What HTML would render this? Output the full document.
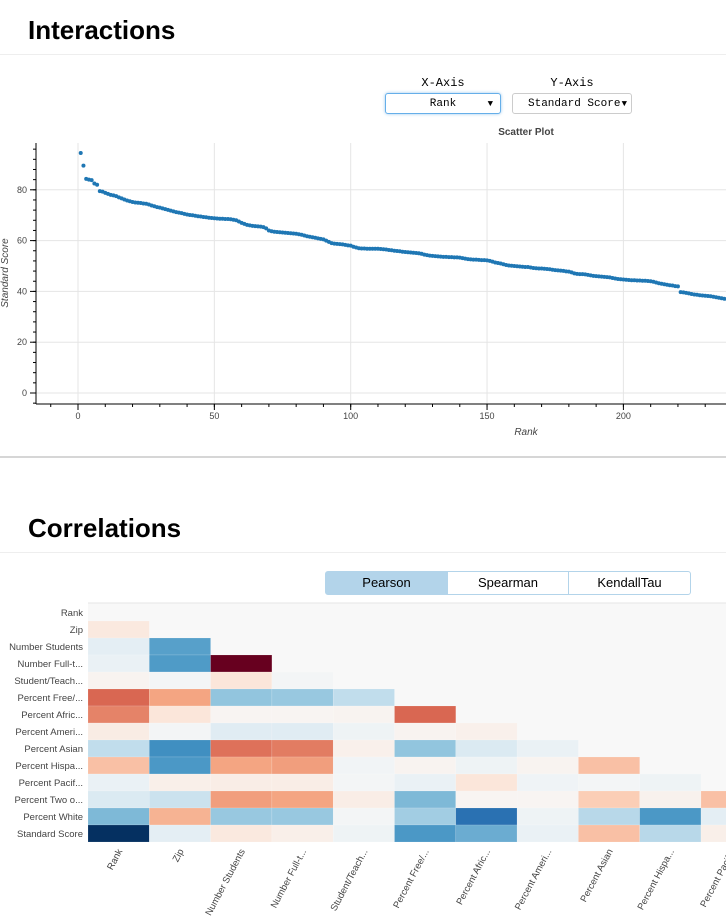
<!DOCTYPE html>
<html><head><meta charset="utf-8">
<style>
body{margin:0;width:726px;height:921px;overflow:hidden;background:#fff;font-family:"Liberation Sans",sans-serif;position:relative}
.h{position:absolute;left:28px;font-weight:bold;font-size:26px;color:#000}
.rule{position:absolute;left:0;width:726px;height:1px;background:#eee}
.lbl{position:absolute;font-family:"Liberation Mono",monospace;font-size:12px;color:#000;text-align:center}
.sel{position:absolute;height:21px;border:1px solid #ccc;border-radius:3px;font-family:"Liberation Mono",monospace;font-size:11px;line-height:21px;text-align:center;background:#fff;box-sizing:border-box}
.btn{position:absolute;top:571px;height:24px;border:1px solid #b3d4ea;font-size:13px;line-height:22px;text-align:center;box-sizing:border-box;background:#fff}
svg{position:absolute;left:0;top:0}
</style></head><body>
<div class="h" style="top:15px">Interactions</div>
<div class="rule" style="top:54px"></div>
<div class="lbl" style="left:385px;top:76px;width:116px">X-Axis</div>
<div class="lbl" style="left:512px;top:76px;width:120px">Y-Axis</div>
<div class="sel" style="left:385px;top:93px;width:116px;border-color:#66afe9;box-shadow:0 0 3px #9cc8ee">Rank<span style="position:absolute;right:7px;font-size:9px">▼</span></div>
<div class="sel" style="left:512px;top:93px;width:120px;text-align:left;padding-left:15px">Standard Score<span style="position:absolute;right:4px;font-size:9px">▼</span></div>
<div class="rule" style="top:456px;height:2px;background:#d6d6d6"></div>
<div class="h" style="top:513px">Correlations</div>
<div class="rule" style="top:552px"></div>
<div class="btn" style="left:325px;width:123px;background:#b3d4ea;border-radius:3px 0 0 3px">Pearson</div>
<div class="btn" style="left:447px;width:122px">Spearman</div>
<div class="btn" style="left:568px;width:123px;border-radius:0 3px 3px 0">KendallTau</div>
<svg id="sc" width="726" height="460"></svg>
<svg id="hm" width="726" height="921" style="pointer-events:none"></svg>
<script>
const scores=[94.5,89.5,84.3,84.0,83.8,82.5,82.0,79.5,79.3,78.8,
78.4,78.0,77.8,77.5,77.0,76.6,76.2,75.8,75.5,75.2,
75.0,74.9,74.8,74.6,74.5,74.2,73.8,73.5,73.2,73.0,
72.7,72.4,72.1,71.8,71.5,71.2,71.0,70.8,70.5,70.3,
70.1,70.0,69.8,69.6,69.5,69.3,69.2,69.0,68.9,68.8,
68.7,68.6,68.6,68.5,68.5,68.4,68.2,68.0,67.5,67.0,
66.6,66.2,66.0,65.8,65.7,65.6,65.5,65.3,64.8,64.0,
63.7,63.5,63.4,63.3,63.2,63.1,63.0,62.9,62.8,62.7,
62.5,62.3,62.0,61.7,61.5,61.3,61.1,60.9,60.7,60.5,
60.0,59.5,59.0,58.8,58.7,58.6,58.5,58.3,58.1,58.0,
57.6,57.3,57.0,56.9,56.9,56.8,56.8,56.8,56.8,56.8,
56.7,56.6,56.5,56.3,56.2,56.0,55.9,55.8,55.6,55.5,
55.4,55.3,55.2,55.1,55.0,54.8,54.5,54.3,54.1,54.0,
53.9,53.8,53.7,53.6,53.6,53.5,53.5,53.4,53.4,53.3,
53.1,52.9,52.7,52.6,52.5,52.5,52.4,52.3,52.3,52.2,
52.0,51.7,51.4,51.2,51.0,50.7,50.4,50.2,50.1,50.0,
49.9,49.8,49.7,49.6,49.6,49.4,49.2,49.1,49.0,49.0,
48.9,48.8,48.7,48.5,48.4,48.3,48.2,48.1,47.9,47.8,
47.5,47.1,46.9,46.8,46.8,46.7,46.5,46.3,46.1,46.0,
45.9,45.8,45.7,45.6,45.5,45.3,45.1,44.9,44.8,44.7,
44.6,44.5,44.4,44.4,44.3,44.3,44.2,44.2,44.1,44.0,
43.8,43.5,43.2,43.0,42.8,42.6,42.4,42.3,42.1,42.0,
39.7,39.6,39.4,39.2,39.0,38.8,38.7,38.5,38.4,38.3,
38.2,38.1,37.9,37.7,37.5,37.3,37.1,37.0,36.8,36.7];
const xTicks=[0,50,100,150,200];
const yTicks=[0,20,40,60,80];
const NS='http://www.w3.org/2000/svg';
function mk(p,t,a,txt){const e=document.createElementNS(NS,t);for(const k in a)e.setAttribute(k,a[k]);if(txt!=null)e.textContent=txt;p.appendChild(e);return e;}
const sc=document.getElementById('sc');
const X=v=>78+v*2.727, Y=v=>393-v*2.54;
const L=36,T=143,R=726,B=404;
mk(sc,'text',{x:526,y:135,'text-anchor':'middle','font-size':10,'font-weight':'bold',fill:'#444'},'Scatter Plot');
mk(sc,'rect',{x:L,y:T,width:R-L,height:B-T,fill:'#fff'});
const cp=mk(sc,'clipPath',{id:'cp'});mk(cp,'rect',{x:L,y:T,width:R-L,height:B-T});
xTicks.forEach(t=>{
 const g=mk(sc,'line',{x1:X(t),x2:X(t),y1:T,y2:B,stroke:'#e5e5e5'});
 const l=mk(sc,'text',{x:X(t),y:419,'text-anchor':'middle','font-size':9,fill:'#444'},t);
 mk(sc,'line',{x1:X(t),x2:X(t),y1:B,y2:B+6,stroke:'#000'});
});
for(let t=-10;t<=240;t+=10){if(X(t)>L&&X(t)<R)mk(sc,'line',{x1:X(t),x2:X(t),y1:B,y2:B+3,stroke:'#000'});}
yTicks.forEach(t=>{
 const g=mk(sc,'line',{x1:L,x2:R,y1:Y(t),y2:Y(t),stroke:'#e5e5e5'});
 const l=mk(sc,'text',{x:27,y:Y(t)+3,'text-anchor':'end','font-size':9,fill:'#444'},t);
 mk(sc,'line',{x1:L-6,x2:L,y1:Y(t),y2:Y(t),stroke:'#000'});
});
for(let t=-4;t<=96;t+=4){if(Y(t)>T&&Y(t)<B)mk(sc,'line',{x1:L-3,x2:L,y1:Y(t),y2:Y(t),stroke:'#000'});}
mk(sc,'line',{x1:L,x2:L,y1:T,y2:B,stroke:'#000'});
mk(sc,'line',{x1:L,x2:R,y1:B,y2:B,stroke:'#000'});
const pts=mk(sc,'g',{'clip-path':'url(#cp)'});
scores.forEach((v,i)=>{const c=mk(pts,'circle',{cx:X(i+1),cy:Y(v),r:2,fill:'#1f77b4'});

});
const xl=mk(sc,'text',{x:526,y:435,'text-anchor':'middle','font-size':10,'font-style':'italic',fill:'#444'},'Rank');
const yl=mk(sc,'text',{x:8,y:273,'text-anchor':'middle','font-size':10,'font-style':'italic',fill:'#444',transform:'rotate(-90 8 273)'},'Standard Score');

const rowLabels=['Rank','Zip','Number Students','Number Full-t...','Student/Teach...','Percent Free/...','Percent Afric...','Percent Ameri...','Percent Asian','Percent Hispa...','Percent Pacif...','Percent Two o...','Percent White','Standard Score'];
const colLabels=['Rank','Zip','Number Students','Number Full-t...','Student/Teach...','Percent Free/...','Percent Afric...','Percent Ameri...','Percent Asian','Percent Hispa...','Percent Pacif...','Percent Two o...','Percent White'];
const corr=[[],
[0.1],
[-0.1,-0.55],
[-0.07,-0.57,1.0],
[0.03,-0.02,0.12,-0.02],
[0.58,0.4,-0.4,-0.38,-0.25],
[0.5,0.12,0.02,0.02,0.03,0.58],
[0.08,-0.02,-0.12,-0.12,-0.05,0.03,0.05],
[-0.25,-0.62,0.55,0.52,0.05,-0.4,-0.15,-0.07],
[0.3,-0.58,0.4,0.42,-0.03,0.03,-0.05,0.03,0.3],
[-0.07,0.06,0.07,0.07,-0.02,-0.07,0.12,-0.04,-0.02,-0.05],
[-0.15,-0.22,0.42,0.4,0.07,-0.45,0.02,0.02,0.25,0.04,0.3],
[-0.45,0.35,-0.38,-0.38,-0.02,-0.35,-0.75,-0.05,-0.28,-0.58,-0.1,-0.1],
[-1.0,-0.1,0.1,0.06,-0.05,-0.58,-0.5,-0.07,0.3,-0.28,0.06,0.08,-0.1]];
const pal=['#053061','#2166ac','#4393c3','#92c5de','#d1e5f0','#f7f7f7','#fddbc7','#f4a582','#d6604d','#b2182b','#67001f'];
function hx(h){return [1,3,5].map(i=>parseInt(h.substr(i,2),16));}
function col(v){const t=(v+1)/2*10;const i=Math.min(9,Math.floor(t)),f=t-i;const a=hx(pal[i]),b=hx(pal[i+1]);return 'rgb('+a.map((c,k)=>Math.round(c+(b[k]-c)*f)).join(',')+')';}
const hm=document.getElementById('hm');
const HX=88,HY=604,CW=61.3,CH=17;
const hcp=mk(hm,'clipPath',{id:'hcp'});mk(hcp,'rect',{x:HX,y:HY-1,width:726-HX,height:CH*14+1});
mk(hm,'rect',{x:HX,y:HY-1,width:726-HX,height:CH*14+1,fill:'#f8f8f8'});
mk(hm,'line',{x1:HX,x2:726,y1:HY-1,y2:HY-1,stroke:'#e6e6e6'});
const cells=mk(hm,'g',{'clip-path':'url(#hcp)'});
corr.forEach((row,i)=>row.forEach((v,j)=>{
 const r=mk(cells,'rect',{x:HX+j*CW,y:HY+i*CH,width:CW,height:CH,fill:col(v),stroke:'rgba(255,255,255,0.25)','stroke-width':0.5});
 
 
}));
rowLabels.forEach((s,i)=>{const t=mk(hm,'text',{x:83,y:HY+i*CH+12,'text-anchor':'end','font-size':9.5,fill:'#444'},s);

});
colLabels.forEach((s,j)=>{const cx=HX+j*CW+CW/2+4;if(cx>740)return;const t=mk(hm,'text',{x:cx,y:851,'text-anchor':'end','font-size':9.5,fill:'#444',transform:'rotate(-62 '+cx+' 851)'},s);

});
</script>
</body></html>
